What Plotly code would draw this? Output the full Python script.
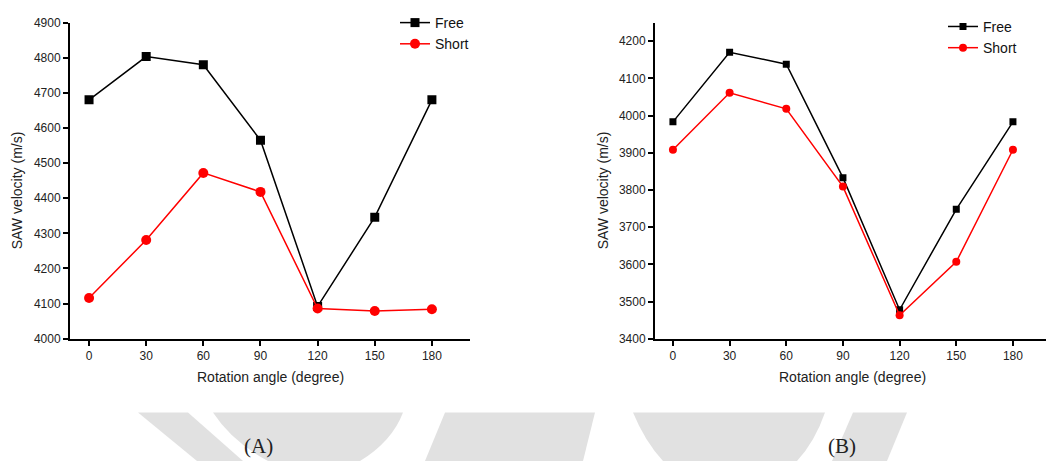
import plotly.graph_objects as go

angles = [0, 30, 60, 90, 120, 150, 180]
a_free = [4680, 4803, 4780, 4565, 4092, 4346, 4680]
a_short = [4116, 4281, 4472, 4418, 4086, 4079, 4084]
b_free = [3983, 4170, 4138, 3833, 3478, 3748, 3983]
b_short = [3908, 4061, 4018, 3809, 3463, 3607, 3908]
tick_labels = ["0", "30", "60", "90", "120", "150", "180"]

W, H = 1048, 468
FONT = "Liberation Sans, Arial, sans-serif"


def px(x):
    return x / W


def py(y):
    return 1 - y / H


fig = go.Figure()

# Panel A
fig.add_trace(go.Scatter(x=angles, y=a_free, name="Free", mode="lines+markers",
                         line=dict(color="black", width=1.5),
                         marker=dict(symbol="square", size=9, color="black"),
                         xaxis="x", yaxis="y", legend="legend"))
fig.add_trace(go.Scatter(x=angles, y=a_short, name="Short", mode="lines+markers",
                         line=dict(color="#ff0000", width=1.5),
                         marker=dict(symbol="circle", size=10, color="#ff0000"),
                         xaxis="x", yaxis="y", legend="legend"))
# Panel B
fig.add_trace(go.Scatter(x=angles, y=b_free, name="Free", mode="lines+markers",
                         line=dict(color="black", width=1.5),
                         marker=dict(symbol="square", size=7, color="black"),
                         xaxis="x2", yaxis="y2", legend="legend2"))
fig.add_trace(go.Scatter(x=angles, y=b_short, name="Short", mode="lines+markers",
                         line=dict(color="#ff0000", width=1.5),
                         marker=dict(symbol="circle", size=8, color="#ff0000"),
                         xaxis="x2", yaxis="y2", legend="legend2"))

axis_common = dict(showline=True, linewidth=2, linecolor="black", mirror=False,
                   ticks="outside", ticklen=5, tickwidth=1.5, tickcolor="black",
                   showgrid=False, zeroline=False,
                   tickfont=dict(family=FONT, size=12, color="#222"))

fig.update_layout(
    width=W, height=H,
    margin=dict(l=0, r=0, t=0, b=0),
    paper_bgcolor="white", plot_bgcolor="white",
    showlegend=True,
    xaxis=dict(domain=[px(70), px(470)], range=[-10, 200], anchor="y",
               tickvals=angles, ticktext=tick_labels, **axis_common),
    yaxis=dict(domain=[py(342), py(16)], range=[4000, 4900], anchor="x",
               dtick=100, **axis_common),
    xaxis2=dict(domain=[px(655), px(1046)], range=[-9.5, 197.5], anchor="y2",
                tickvals=angles, ticktext=tick_labels, **axis_common),
    yaxis2=dict(domain=[py(342), py(16)], range=[3400, 4250], anchor="x2",
                dtick=100, **axis_common),
    legend=dict(x=px(395), y=py(0), xanchor="left", yanchor="top",
                bgcolor="rgba(0,0,0,0)", font=dict(family=FONT, size=14, color="#111"),
                itemwidth=30, tracegroupgap=0),
    legend2=dict(x=px(943), y=py(4), xanchor="left", yanchor="top",
                 bgcolor="rgba(0,0,0,0)", font=dict(family=FONT, size=14, color="#111"),
                 itemwidth=30, tracegroupgap=0),
)

# Axis titles and captions as annotations
ann = []
for xc, yc in [(17, 189), (603, 189)]:
    ann.append(dict(text="SAW velocity (m/s)", x=px(xc), y=py(yc), xref="paper", yref="paper",
                    xanchor="center", yanchor="middle",
                    textangle=-90, showarrow=False, font=dict(family=FONT, size=14, color="#222")))
for xc, yc in [(270, 381), (852, 381)]:
    ann.append(dict(text="Rotation angle (degree)", x=px(xc), y=py(yc), xref="paper", yref="paper",
                    xanchor="center", yanchor="middle",
                    showarrow=False, font=dict(family=FONT, size=14, color="#222")))
for txt, xc in [("(A)", 258), ("(B)", 842)]:
    ann.append(dict(text=txt, x=px(xc), y=py(453), xref="paper", yref="paper",
                    xanchor="center", yanchor="middle",
                    showarrow=False, font=dict(family="Liberation Serif, DejaVu Serif, serif", size=21, color="#222")))
fig.update_layout(annotations=ann)


# Faint watermark in the background
def path_px(cmds):
    out = []
    for c in cmds:
        if isinstance(c, str):
            out.append(c)
        else:
            out.append(f"{px(c[0]):.5f},{py(c[1]):.5f}")
    return " ".join(out)


wm = "rgb(225,225,225)"
paths = [
    ["M", (138, 418), "L", (188, 418), "L", (243, 468), "L", (197, 468), "Z"],
    ["M", (213, 418), "L", (403, 418), "Q", (392, 448), (360, 468), "L", (268, 468), "Q", (232, 448), (213, 418), "Z"],
    ["M", (445, 418), "L", (595, 418), "L", (583, 468), "L", (425, 468), "Z"],
    ["M", (633, 418), "L", (825, 418), "Q", (815, 448), (797, 468), "L", (663, 468), "Q", (645, 448), (633, 418), "Z"],
    ["M", (853, 418), "L", (907, 418), "L", (887, 468), "L", (832, 468), "Z"],
]
shapes = [dict(type="path", xref="paper", yref="paper", path=path_px(p),
               fillcolor=wm, line=dict(width=0), layer="below") for p in paths]
fig.update_layout(shapes=shapes)

fig.write_html("out.html")
